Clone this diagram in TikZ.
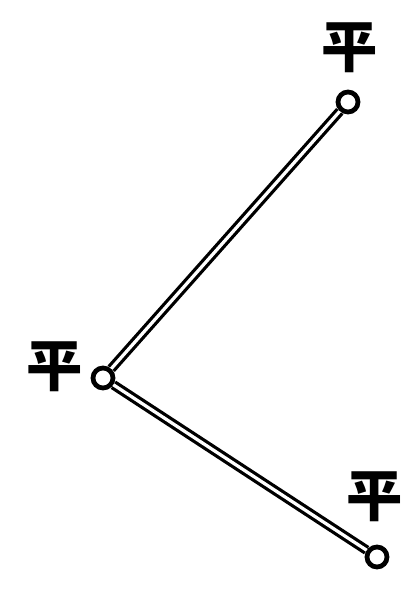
\documentclass[tikz,border=0pt]{standalone}
\usepackage{fontspec}
\newfontfamily\cjk{Noto Sans CJK SC}
\usetikzlibrary{positioning}

\begin{document}
\begin{tikzpicture}[
    every node/.style={font=\cjk\fontsize{40}{40}\selectfont\bfseries},
    joint/.style={draw, circle, line width=3.4pt, fill=white, inner sep=0pt,
                  minimum size=0.5cm},
    lbl/.style={inner sep=0pt},
    bar/.style={double, double distance=2.3pt, line width=2.3pt}
]
    \useasboundingbox[fill=white] (0,0) rectangle (10.325,14.925);

    % Three joints
    \node[joint] (top) at (8.7, 12.375) {};
    \node[joint] (mid) at (2.575, 5.475) {};
    \node[joint] (bot) at (9.425, 1.0) {};

    % Labels
    \node[lbl] (ltop) at (8.75, 13.72) {平};
    \node[lbl] (lmid) at (1.375, 5.75) {平};
    \node[lbl] (lbot) at (9.375, 2.5) {平};

    \draw[bar] (mid) -- (top);
    \draw[bar] (mid) -- (bot);
\end{tikzpicture}
\end{document}
